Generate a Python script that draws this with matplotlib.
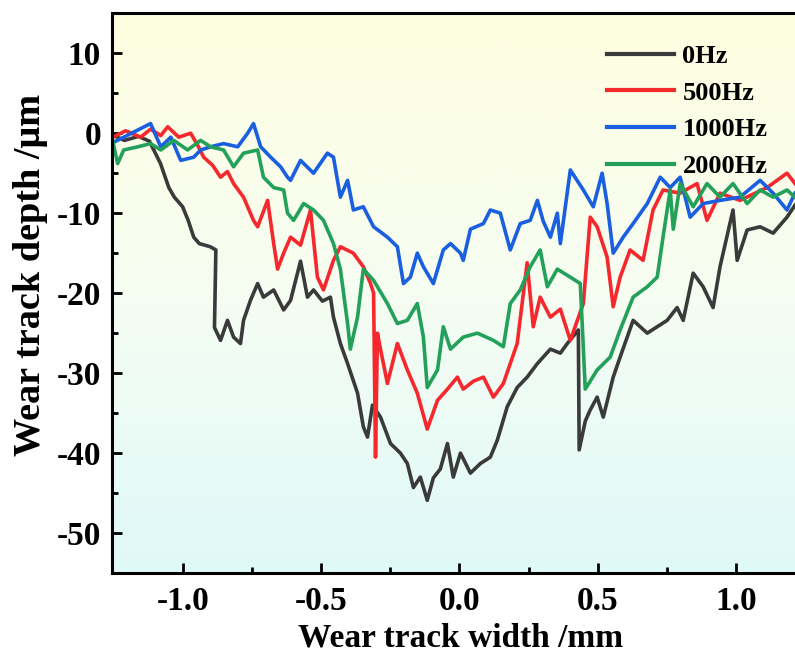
import numpy as np
import matplotlib
matplotlib.use("Agg")
import matplotlib.pyplot as plt
from matplotlib.colors import LinearSegmentedColormap

plt.rcParams['font.family'] = ['Liberation Serif', 'DejaVu Serif']
plt.rcParams['font.weight'] = 'bold'
plt.rcParams['axes.unicode_minus'] = False

# profiles (width in mm, depth in um)
x_0hz = [-1.25, -1.21, -1.16, -1.12, -1.08, -1.05, -1.03, -1.00, -0.98, -0.96, -0.94, -0.90,
         -0.88, -0.885, -0.863, -0.838, -0.816, -0.791, -0.780, -0.755, -0.729, -0.708, -0.671,
         -0.635, -0.610, -0.574, -0.549, -0.527, -0.495, -0.466, -0.455, -0.430, -0.404, -0.368,
         -0.347, -0.332, -0.314, -0.285, -0.249, -0.213, -0.188, -0.166, -0.141, -0.116, -0.094,
         -0.069, -0.043, -0.022, 0.004, 0.040, 0.076, 0.112, 0.137, 0.173, 0.209, 0.245, 0.282,
         0.329, 0.365, 0.390, 0.430, 0.433, 0.455, 0.473, 0.498, 0.520, 0.556, 0.581, 0.628,
         0.679, 0.751, 0.787, 0.809, 0.845, 0.881, 0.917, 0.942, 0.989, 1.004, 1.040, 1.087,
         1.134, 1.184, 1.213]
y_0hz = [-0.3, -0.9, -0.4, -1.0, -3.8, -6.8, -8.0, -9.2, -10.9, -13.0, -13.8, -14.2,
         -14.6, -24.3, -25.9, -23.4, -25.5, -26.3, -23.4, -20.9, -18.8, -20.5, -19.6,
         -22.1, -20.9, -16.0, -20.5, -19.6, -21.0, -20.5, -23.0, -26.3, -28.8, -32.5,
         -36.7, -38.0, -34.0, -35.5, -38.8, -40.0, -41.3, -44.3, -43.0, -45.9, -43.1,
         -42.0, -38.8, -43.0, -40.0, -42.5, -41.3, -40.5, -38.4, -34.2, -31.8, -30.5, -28.8,
         -27.0, -27.5, -26.3, -24.6, -39.6, -36.0, -34.6, -33.0, -35.5, -30.5, -28.0, -23.4,
         -25.0, -23.4, -21.8, -23.4, -17.5, -19.2, -21.8, -16.7, -9.6, -15.9, -12.1, -11.7,
         -12.5, -10.5, -9.0]

x_500hz = [-1.253, -1.206, -1.152, -1.116, -1.079, -1.054, -1.014, -0.971, -0.946, -0.924,
           -0.892, -0.863, -0.838, -0.816, -0.780, -0.744, -0.729, -0.693, -0.671, -0.657,
           -0.635, -0.610, -0.574, -0.538, -0.513, -0.491, -0.455, -0.430, -0.383, -0.347,
           -0.321, -0.310, -0.303, -0.296, -0.285, -0.260, -0.224, -0.188, -0.152, -0.116,
           -0.079, -0.043, -0.007, 0.014, 0.051, 0.087, 0.123, 0.159, 0.209, 0.245, 0.267,
           0.292, 0.329, 0.365, 0.401, 0.448, 0.473, 0.498, 0.534, 0.556, 0.581, 0.617, 0.664,
           0.700, 0.736, 0.798, 0.859, 0.895, 0.942, 1.014, 1.112, 1.184, 1.213]
y_500hz = [-0.5, 0.3, -0.5, 0.5, -0.3, 0.8, -0.5, 0.0, -1.5, -3.0,
           -4.0, -5.5, -4.8, -6.3, -8.0, -10.9, -11.7, -8.4, -13.8, -17.0,
           -15.0, -13.0, -14.0, -9.6, -18.0, -19.6, -15.9, -14.2, -15.0, -16.7,
           -18.8, -20.0, -40.5, -25.0, -27.0, -31.3, -26.3, -29.6, -32.5, -37.0,
           -33.4, -32.0, -30.5, -32.0, -31.0, -30.5, -33.0, -31.3, -26.3, -16.2, -24.2,
           -20.5, -23.0, -22.0, -25.9, -21.3, -10.5, -11.7, -15.5, -21.7, -18.0, -14.6, -15.9,
           -9.6, -7.1, -7.5, -6.3, -10.9, -7.5, -8.4, -6.8, -5.0, -6.3]

x_1000hz = [-1.253, -1.213, -1.162, -1.116, -1.079, -1.043, -1.007, -0.960, -0.935, -0.899,
            -0.852, -0.801, -0.765, -0.744, -0.718, -0.682, -0.646, -0.621, -0.610, -0.574,
            -0.527, -0.477, -0.455, -0.430, -0.404, -0.383, -0.347, -0.310, -0.260, -0.224,
            -0.202, -0.177, -0.152, -0.130, -0.094, -0.058, -0.032, 0.004, 0.014, 0.040, 0.087,
            0.112, 0.148, 0.184, 0.220, 0.256, 0.282, 0.303, 0.329, 0.354, 0.365, 0.401, 0.448,
            0.484, 0.516, 0.534, 0.556, 0.592, 0.628, 0.679, 0.726, 0.762, 0.798, 0.834, 0.881,
            0.942, 1.014, 1.087, 1.134, 1.184, 1.213]
y_1000hz = [-1.2, -0.5, 0.4, 1.2, -1.7, -0.5, -3.4, -3.0, -2.1, -1.7,
            -1.3, -1.7, 0.0, 1.2, -1.7, -3.0, -4.2, -5.5, -5.9, -3.4,
            -5.0, -2.5, -3.0, -8.0, -5.9, -9.6, -9.2, -11.7, -13.0, -14.2,
            -18.8, -18.0, -15.0, -16.7, -18.8, -14.6, -13.8, -15.0, -15.9, -12.0, -11.3,
            -9.6, -10.0, -14.6, -11.3, -10.9, -8.4, -11.0, -13.0, -10.0, -13.8, -4.6, -7.1,
            -9.2, -5.0, -8.8, -15.0, -13.0, -11.3, -8.8, -5.5, -6.8, -5.5, -10.5, -8.8,
            -8.4, -8.0, -5.9, -7.5, -9.6, -7.5]

x_2000hz = [-1.253, -1.235, -1.213, -1.162, -1.116, -1.079, -1.032, -0.982, -0.935, -0.899,
            -0.852, -0.816, -0.780, -0.729, -0.708, -0.671, -0.635, -0.621, -0.599, -0.563,
            -0.527, -0.491, -0.455, -0.430, -0.404, -0.394, -0.368, -0.347, -0.310, -0.260,
            -0.224, -0.188, -0.152, -0.130, -0.116, -0.079, -0.058, -0.032, 0.014, 0.065, 0.123,
            0.159, 0.184, 0.220, 0.256, 0.292, 0.318, 0.354, 0.401, 0.437, 0.455, 0.498, 0.545,
            0.581, 0.628, 0.679, 0.715, 0.736, 0.762, 0.773, 0.798, 0.845, 0.895, 0.942, 0.989,
            1.040, 1.087, 1.134, 1.184, 1.213]
y_2000hz = [-0.9, -3.8, -2.1, -1.7, -1.3, -2.1, -0.9, -2.1, -0.9, -1.7,
            -2.1, -4.2, -2.5, -2.1, -5.5, -6.8, -7.1, -10.0, -10.9, -8.8,
            -9.6, -10.9, -13.8, -17.0, -23.8, -27.0, -23.0, -17.0, -18.4, -21.3,
            -23.8, -23.4, -21.3, -25.5, -31.8, -29.6, -24.2, -27.0, -25.5, -25.0, -25.9,
            -26.7, -21.3, -19.6, -16.7, -14.6, -19.2, -17.0, -18.0, -18.8, -32.0, -29.6, -28.0,
            -24.6, -20.5, -19.2, -18.0, -13.0, -7.1, -12.0, -6.3, -9.2, -6.3, -8.0, -6.3,
            -8.8, -7.1, -8.0, -7.1, -8.0]

labels = ['0Hz', '500Hz', '1000Hz', '2000Hz']
colors = ['#3a3a3a', '#f5282d', '#1a5fe0', '#23a05a']

fig = plt.figure(figsize=(7.95, 6.61), dpi=100)
ax = fig.add_axes([0.141, 0.133, 0.859, 0.847])

# yellow-to-cyan background
bg = LinearSegmentedColormap.from_list('bg', ['#dff9f9', '#f6fdf2', '#fefde0'])
grad = np.linspace(0, 1, 256).reshape(-1, 1)
ax.imshow(grad, aspect='auto', cmap=bg, origin='lower', extent=[0, 1, 0, 1],
          transform=ax.transAxes, zorder=0)

series = [(x_0hz, y_0hz), (x_500hz, y_500hz), (x_1000hz, y_1000hz), (x_2000hz, y_2000hz)]
for (xs, ys), lab, c in zip(series, labels, colors):
    ax.plot(xs, ys, color=c, lw=2.6, label=lab, zorder=2)

ax.set_xlim(-1.255, 1.213)
ax.set_ylim(-55, 15)
ax.set_xticks([-1.0, -0.5, 0.0, 0.5, 1.0])
ax.set_xticks([-0.75, -0.25, 0.25, 0.75], minor=True)
ax.set_yticks([10, 0, -10, -20, -30, -40, -50])
ax.set_yticks([5, -5, -15, -25, -35, -45], minor=True)
ax.tick_params(which='both', direction='in', width=2, labelsize=24)
ax.tick_params(which='major', length=7)
ax.tick_params(which='minor', length=4)
ax.tick_params(axis='x', pad=9)
ax.tick_params(axis='y', pad=8)
for lbl in ax.get_xticklabels() + ax.get_yticklabels():
    lbl.set_fontweight('bold')

for s in ['left', 'bottom', 'top']:
    ax.spines[s].set_linewidth(2.2)
ax.spines['right'].set_visible(False)

ax.set_xlabel('Wear track width /mm', fontsize=24, fontweight='bold')
ax.set_ylabel('Wear track depth /μm', fontsize=27.5, fontweight='bold')
ax.xaxis.set_label_coords(0.51, -0.088)
ax.yaxis.set_label_coords(-0.12, 0.532)
ax.yaxis.label.set_va('center')

leg = ax.legend(loc='upper left', bbox_to_anchor=(0.725, 0.944), frameon=False,
                fontsize=19, handlelength=2.55, labelspacing=0.5, handletextpad=0.3,
                borderpad=0, borderaxespad=0)
for line in leg.get_lines():
    line.set_linewidth(3)
for t in leg.get_texts():
    t.set_fontweight('bold')

fig.savefig('out.png', dpi=100)
